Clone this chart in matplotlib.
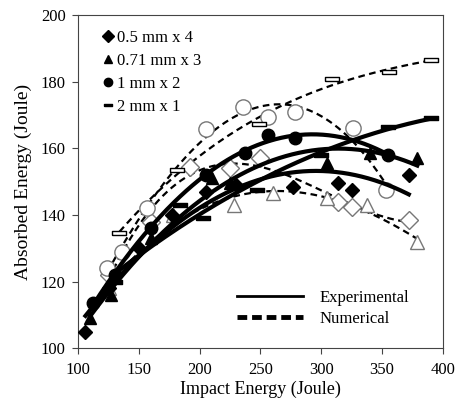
import numpy as np
import matplotlib
matplotlib.use("Agg")
from matplotlib import pyplot as plt
from matplotlib.lines import Line2D

plt.rcParams['font.family'] = ['Liberation Serif', 'DejaVu Serif']

# experimental (filled markers, solid trend lines)
d_exp_x = [106, 125, 150, 177, 205, 230, 277, 314, 325, 372]
d_exp_y = [105, 118, 130, 140, 147, 149, 148.5, 149.5, 147.5, 152]
t_exp_x = [110, 127, 160, 210, 225, 305, 340, 379]
t_exp_y = [109, 116, 133, 151, 149.5, 155.5, 158.5, 157]
c_exp_x = [112, 130, 160, 205, 237, 256, 278, 355]
c_exp_y = [113.5, 122, 136, 152, 158.6, 164, 163, 158]
r_exp_x = [130, 184, 203, 247, 300, 355, 390]
r_exp_y = [120, 143, 139, 147.5, 158, 166.5, 169]

# numerical (hollow markers, dashed trend lines)
d_num_x = [125, 160, 192, 225, 250, 314, 325, 372]
d_num_y = [122, 138, 154.4, 154, 157, 143.8, 142.3, 138.5]
t_num_x = [125, 178, 228, 260, 305, 338, 379]
t_num_y = [118, 140, 143, 146.5, 145, 143, 131.8]
c_num_x = [124, 136, 157, 205, 236, 256, 278, 326, 353]
c_num_y = [124, 129, 142, 165.8, 172.4, 169.4, 171, 166, 147.5]
r_num_x = [134, 181, 249, 309, 356, 390]
r_num_y = [134.5, 153.4, 167.3, 180.8, 182.9, 186.5]

labels = ["0.5 mm x 4", "0.71 mm x 3", "1 mm x 2", "2 mm x 1"]

# wide flat bar for the 2 mm series
bar = [(-1, -0.3), (1, -0.3), (1, 0.3), (-1, 0.3), (-1, -0.3)]
markers = ["D", "^", "o", bar]
msizes = [7, 8, 9, 10]

exp_sets = [(d_exp_x, d_exp_y), (t_exp_x, t_exp_y), (c_exp_x, c_exp_y), (r_exp_x, r_exp_y)]
num_sets = [(d_num_x, d_num_y), (t_num_x, t_num_y), (c_num_x, c_num_y), (r_num_x, r_num_y)]

fig = plt.figure(figsize=(4.57, 4.15), dpi=100)
ax = fig.add_axes([0.171, 0.161, 0.798, 0.803])


def trend(x, y, deg):
    p = np.polyfit(x, y, deg)
    xs = np.linspace(min(x), max(x), 200)
    return xs, np.polyval(p, xs)


for i, ((x, y), m, ms) in enumerate(zip(num_sets, markers, msizes)):
    xs, ys = trend(x, y, 3)
    ax.plot(xs, ys, color="black", lw=1.6, ls=(0, (3, 2)), zorder=2)
    ax.plot(x, y, marker=m, ls="none", ms=ms if i == 3 else ms + 2,
            mfc="white", mec="#777777" if i < 3 else "black",
            mew=1.0, zorder=3)

for i, ((x, y), m, ms) in enumerate(zip(exp_sets, markers, msizes)):
    xs, ys = trend(x, y, 2)
    ax.plot(xs, ys, color="black", lw=3, zorder=4)
    ax.plot(x, y, marker=m, ls="none", ms=ms, color="black", mew=1, zorder=5)

ax.set_xlim(100, 400)
ax.set_ylim(100, 200)
ax.set_xticks(np.arange(100, 401, 50))
ax.set_yticks(np.arange(100, 201, 20))
ax.tick_params(direction="out", labelsize=12, length=4, color="#444444")
ax.tick_params(axis="x", pad=6)
ax.tick_params(axis="y", pad=5)
ax.set_xlabel("Impact Energy (Joule)", fontsize=13, labelpad=2)
ax.set_ylabel("Absorbed Energy (Joule)", fontsize=14, labelpad=6)
for s in ax.spines.values():
    s.set_color("#444444")

h1 = [Line2D([], [], marker=m, ls="none", color="black",
             ms=6) for m in markers]
leg1 = ax.legend(h1, labels, loc="upper left", frameon=False, fontsize=12,
                 handlelength=0.7, handletextpad=0.2, labelspacing=0.42,
                 borderaxespad=0.5, bbox_to_anchor=(0.025, 1.0))
ax.add_artist(leg1)

h2 = [Line2D([], [], color="black", lw=2),
      Line2D([], [], color="black", lw=3.5, ls=(0, (2, 1)))]
ax.legend(h2, ["Experimental", "Numerical"], loc="lower right", frameon=False,
          fontsize=12, handlelength=4.0, handletextpad=1.0, labelspacing=0.3,
          bbox_to_anchor=(0.95, 0.02))

fig.savefig("out.png", dpi=100)
